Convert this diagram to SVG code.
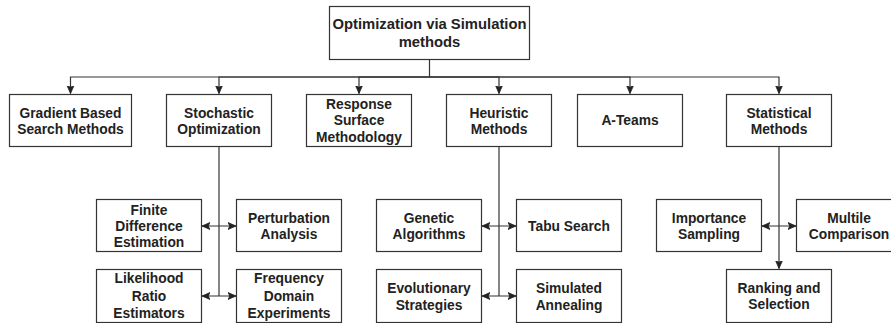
<svg xmlns="http://www.w3.org/2000/svg" width="891" height="323" viewBox="0 0 891 323">
<style>
.box{fill:#fff;stroke:#333;stroke-width:1.2}
.t{font-family:"Liberation Sans",Arial,sans-serif;font-weight:bold;font-size:13.8px;fill:#222;text-anchor:middle}
.tt{font-size:14.8px}
.c{fill:none;stroke:#333;stroke-width:1.2}
</style>
<defs>
<marker id="ah" markerUnits="userSpaceOnUse" markerWidth="10" markerHeight="10" viewBox="0 0 10 10" refX="8" refY="5" orient="auto-start-reverse">
<path d="M0,1.5 L8,5 L0,8.5 L1.8,5 Z" fill="#222" stroke="#222" stroke-width="0.8"/>
</marker>
</defs>
<rect width="891" height="323" fill="#fff"/>
<g id="connectors">
<path class="c" d="M429.5,59.5 V77 H70.5 V93.5" marker-end="url(#ah)"/>
<path class="c" d="M429.5,77 H219 V93.5" marker-end="url(#ah)"/>
<path class="c" d="M429.5,77 H359 V93.5" marker-end="url(#ah)"/>
<path class="c" d="M429.5,77 H499 V93.5" marker-end="url(#ah)"/>
<path class="c" d="M429.5,77 H630 V93.5" marker-end="url(#ah)"/>
<path class="c" d="M429.5,77 H779 V93.5" marker-end="url(#ah)"/>
<path class="c" d="M219,146.5 V296"/>
<path class="c" d="M202,226 H236" marker-start="url(#ah)" marker-end="url(#ah)"/>
<path class="c" d="M202,296 H236" marker-start="url(#ah)" marker-end="url(#ah)"/>
<path class="c" d="M499,146.5 V296"/>
<path class="c" d="M482,226 H516" marker-start="url(#ah)" marker-end="url(#ah)"/>
<path class="c" d="M482,296 H516" marker-start="url(#ah)" marker-end="url(#ah)"/>
<path class="c" d="M779,146.5 V268.5" marker-end="url(#ah)"/>
<path class="c" d="M762,226 H796" marker-start="url(#ah)" marker-end="url(#ah)"/>
</g>
<g id="n-root"><rect class="box" x="329.5" y="6.5" width="200" height="53"/><text class="t tt" x="429.5" y="29.4">Optimization via Simulation</text><text class="t tt" x="429.5" y="47.1">methods</text></g>
<g id="n-gradient"><rect class="box" x="9.5" y="94.5" width="122" height="52"/><text class="t" x="70.5" y="117.7">Gradient Based</text><text class="t" x="70.5" y="134.3">Search Methods</text></g>
<g id="n-stochastic"><rect class="box" x="166.5" y="94.5" width="105" height="52"/><text class="t" x="219" y="117.7">Stochastic</text><text class="t" x="219" y="134.3">Optimization</text></g>
<g id="n-response"><rect class="box" x="306.5" y="94.5" width="105" height="52"/><text class="t" x="359" y="109">Response</text><text class="t" x="359" y="125.3">Surface</text><text class="t" x="359" y="141.6">Methodology</text></g>
<g id="n-heuristic"><rect class="box" x="446.5" y="94.5" width="105" height="52"/><text class="t" x="499" y="117.7">Heuristic</text><text class="t" x="499" y="134.3">Methods</text></g>
<g id="n-ateams"><rect class="box" x="577.5" y="94.5" width="105" height="52"/><text class="t" x="630" y="125">A-Teams</text></g>
<g id="n-statistical"><rect class="box" x="726.5" y="94.5" width="105" height="52"/><text class="t" x="779" y="117.7">Statistical</text><text class="t" x="779" y="134.3">Methods</text></g>
<g id="n-finite"><rect class="box" x="96.5" y="199.5" width="105" height="52"/><text class="t" x="149" y="215">Finite</text><text class="t" x="149" y="231">Difference</text><text class="t" x="149" y="246.8">Estimation</text></g>
<g id="n-perturbation"><rect class="box" x="236.5" y="199.5" width="105" height="52"/><text class="t" x="289" y="223.3">Perturbation</text><text class="t" x="289" y="239">Analysis</text></g>
<g id="n-likelihood"><rect class="box" x="96.5" y="269.5" width="105" height="53"/><text class="t" x="149" y="283.3">Likelihood</text><text class="t" x="149" y="300.5">Ratio</text><text class="t" x="149" y="317.5">Estimators</text></g>
<g id="n-frequency"><rect class="box" x="236.5" y="269.5" width="105" height="53"/><text class="t" x="289" y="283.3">Frequency</text><text class="t" x="289" y="300.5">Domain</text><text class="t" x="289" y="317.5">Experiments</text></g>
<g id="n-genetic"><rect class="box" x="376.5" y="199.5" width="105" height="52"/><text class="t" x="429" y="223.3">Genetic</text><text class="t" x="429" y="239">Algorithms</text></g>
<g id="n-tabu"><rect class="box" x="516.5" y="199.5" width="105" height="52"/><text class="t" x="569" y="231">Tabu Search</text></g>
<g id="n-evolutionary"><rect class="box" x="376.5" y="269.5" width="105" height="53"/><text class="t" x="429" y="293.3">Evolutionary</text><text class="t" x="429" y="310">Strategies</text></g>
<g id="n-simulated"><rect class="box" x="516.5" y="269.5" width="105" height="53"/><text class="t" x="569" y="293.3">Simulated</text><text class="t" x="569" y="310">Annealing</text></g>
<g id="n-importance"><rect class="box" x="656.5" y="199.5" width="105" height="52"/><text class="t" x="709" y="223.3">Importance</text><text class="t" x="709" y="239">Sampling</text></g>
<g id="n-multile"><rect class="box" x="796.5" y="199.5" width="105" height="52"/><text class="t" x="849" y="223.3">Multile</text><text class="t" x="849" y="239">Comparison</text></g>
<g id="n-ranking"><rect class="box" x="726.5" y="269.5" width="105" height="53"/><text class="t" x="779" y="292.8">Ranking and</text><text class="t" x="779" y="309.4">Selection</text></g>
</svg>
